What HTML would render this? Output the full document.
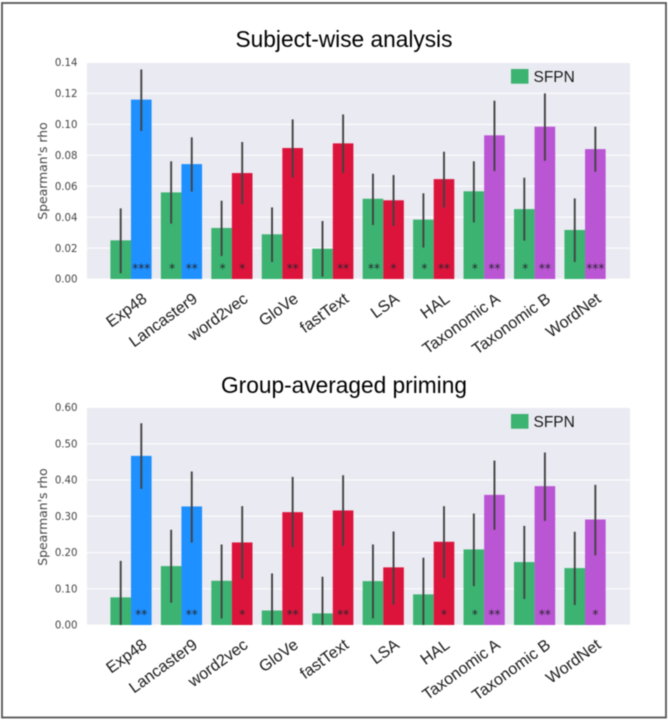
<!DOCTYPE html>
<html>
<head>
<meta charset="utf-8">
<title>Spearman's rho bar charts</title>
<style>
html,body{margin:0;padding:0;background:#fff;}
body{width:668px;height:720px;overflow:hidden;}
svg{display:block;filter:blur(0.4px);}
.tick{font:10.2px "DejaVu Sans",sans-serif;fill:#444;text-anchor:end;}
.ytitle{font:12.4px "DejaVu Sans",sans-serif;fill:#444;text-anchor:middle;}
.cat{font:16.1px "Liberation Sans",sans-serif;fill:#1a1a1a;text-anchor:end;}
.title{font:22.7px "Liberation Sans",sans-serif;fill:#000;text-anchor:middle;}
.legend{font:15.5px "Liberation Sans",sans-serif;fill:#1a1a1a;}
.star{font:12px "DejaVu Sans",sans-serif;fill:#26262e;text-anchor:middle;}
</style>
</head>
<body>
<svg id="root" width="668" height="720" viewBox="0 0 668 720" xmlns="http://www.w3.org/2000/svg">
  <rect x="2" y="3" width="664" height="714.5" fill="#fff" stroke="#555" stroke-width="1.8"/>
</svg>
<script>
const categories = ["Exp48","Lancaster9","word2vec","GloVe","fastText","LSA","HAL","Taxonomic A","Taxonomic B","WordNet"];
const categoryColors = ["blue","blue","red","red","red","red","red","purple","purple","purple"];

const topTitle = "Subject-wise analysis";
const topTicks = ["0.00","0.02","0.04","0.06","0.08","0.10","0.12","0.14"];
const topSfpn = [0.025,0.056,0.033,0.0289,0.0196,0.0519,0.0384,0.0567,0.0452,0.0317];
const topOther = [0.116,0.0743,0.0685,0.0847,0.0877,0.0509,0.0646,0.0929,0.0985,0.084];
const topSfpnLow = [0.0037,0.0358,0.0149,0.011,0.0015,0.0349,0.0203,0.0366,0.0248,0.011];
const topSfpnHigh = [0.0457,0.0761,0.0506,0.0463,0.0375,0.0681,0.0554,0.0761,0.0655,0.0521];
const topOtherLow = [0.0957,0.0565,0.0483,0.0657,0.0685,0.0343,0.0461,0.0698,0.0765,0.0694];
const topOtherHigh = [0.1355,0.0916,0.0886,0.1032,0.1064,0.0672,0.0823,0.1153,0.12,0.0985];
const topSfpnStars = ["","*","*","","","**","*","*","*",""];
const topOtherStars = ["***","**","*","**","**","*","**","**","**","***"];

const bottomTitle = "Group-averaged priming";
const bottomTicks = ["0.00","0.10","0.20","0.30","0.40","0.50","0.60"];
const bottomSfpn = [0.0762,0.1625,0.122,0.04,0.032,0.121,0.0845,0.2085,0.1736,0.157];
const bottomOther = [0.4665,0.327,0.2277,0.3113,0.316,0.159,0.2296,0.359,0.383,0.291];
const bottomSfpnLow = [0,0.0615,0.0184,0,0,0.0184,0,0.1074,0.0716,0.0551];
const bottomSfpnHigh = [0.177,0.2626,0.2222,0.1423,0.1331,0.2222,0.1855,0.3076,0.2736,0.2571];
const bottomOtherLow = [0.3756,0.2277,0.1276,0.2149,0.2185,0.056,0.1295,0.2626,0.2874,0.1919];
const bottomOtherHigh = [0.5565,0.4233,0.3278,0.4086,0.4132,0.258,0.3278,0.4536,0.4757,0.3866];
const bottomSfpnStars = ["","","","","","","","*","",""];
const bottomOtherStars = ["**","**","*","**","**","","*","**","**","*"];

const legendLabel = "SFPN";
const yAxisLabel = "Spearman's rho";

const palette = {green:"#3CB371",blue:"#1E90FF",red:"#DC143C",purple:"#BA55D3"};
const svg = document.getElementById("root");
const NS = "http://www.w3.org/2000/svg";

function make(tag, attrs, parent, text){
  const el = document.createElementNS(NS, tag);
  for (const k in attrs) el.setAttribute(k, attrs[k]);
  if (text !== undefined) el.textContent = text;
  parent.appendChild(el);
  return el;
}

function drawPanel(cfg){
  const left = 87, right = 630, step = 50.45, firstCenter = 131, barW = 20.6;
  const xScale = i => firstCenter + i * step;
  const yScale = v => cfg.bottom - (v / cfg.max) * (cfg.bottom - cfg.top);

  const g = make("g", {}, svg);
  
  

  const title = make("text", {class:"title", x:cfg.titleX, y:cfg.titleY}, g, cfg.title);
  
  

  const plot = make("rect", {x:left, y:cfg.top, width:right-left, height:cfg.bottom-cfg.top, fill:"#EAEAF2"}, g);
  
  

  cfg.ticks.forEach(t => {
    const v = parseFloat(t), y = yScale(v);
    const line = make("line", {x1:left, x2:right, y1:y, y2:y, stroke:"#fff", "stroke-width":1}, g);
    
    
    const lab = make("text", {class:"tick", x:77.5, y:y+3.7}, g, t);
    
    
  });

  const yt = make("text", {class:"ytitle", x:0, y:0, transform:"translate(47 "+cfg.yTitleY+") rotate(-90)"}, g, yAxisLabel);
  
  

  categories.forEach((c, i) => {
    const cx = xScale(i);
    const gy = yScale(cfg.sfpn[i]), oy = yScale(cfg.other[i]);
    const b1 = make("rect", {x:cx-barW, y:gy, width:barW, height:cfg.bottom-gy, fill:palette.green}, g);
    
    
    const b2 = make("rect", {x:cx, y:oy, width:barW, height:cfg.bottom-oy, fill:palette[categoryColors[i]]}, g);
    
    

    const e1 = make("line", {x1:cx-barW/2, x2:cx-barW/2, y1:yScale(cfg.sfpnLow[i]), y2:yScale(cfg.sfpnHigh[i]), stroke:"#424242", "stroke-width":1.9}, g);
    
    
    const e2 = make("line", {x1:cx+barW/2, x2:cx+barW/2, y1:yScale(cfg.otherLow[i]), y2:yScale(cfg.otherHigh[i]), stroke:"#424242", "stroke-width":1.9}, g);
    
    

    if (cfg.sfpnStars[i]) {
      const s1 = make("text", {class:"star", x:cx-barW/2+1, y:cfg.bottom-6.5}, g, cfg.sfpnStars[i]);
      
      
    }
    if (cfg.otherStars[i]) {
      const s2 = make("text", {class:"star", x:cx+barW/2, y:cfg.bottom-6.5}, g, cfg.otherStars[i]);
      
      
    }

    const lab = make("text", {class:"cat", x:0, y:0, transform:"translate("+(cx+17)+" "+(cfg.bottom+22)+") rotate(-36)"}, g, c);
    
    
  });

  const sw = make("rect", {x:511, y:cfg.top+6.5, width:17.5, height:14.7, fill:palette.green}, g);
  
  
  const lt = make("text", {class:"legend", x:533.5, y:cfg.top+19.5}, g, legendLabel);
  
  
}

drawPanel({name:"subject-wise-chart", title:topTitle, titleX:344, titleY:47, top:62.5, bottom:279, max:0.14, yTitleY:171,
  ticks:topTicks, sfpn:topSfpn, other:topOther, sfpnLow:topSfpnLow, sfpnHigh:topSfpnHigh, otherLow:topOtherLow, otherHigh:topOtherHigh,
  sfpnStars:topSfpnStars, otherStars:topOtherStars});
drawPanel({name:"group-averaged-chart", title:bottomTitle, titleX:344, titleY:393, top:407.5, bottom:625, max:0.6, yTitleY:517,
  ticks:bottomTicks, sfpn:bottomSfpn, other:bottomOther, sfpnLow:bottomSfpnLow, sfpnHigh:bottomSfpnHigh, otherLow:bottomOtherLow, otherHigh:bottomOtherHigh,
  sfpnStars:bottomSfpnStars, otherStars:bottomOtherStars});
</script>
</body>
</html>
